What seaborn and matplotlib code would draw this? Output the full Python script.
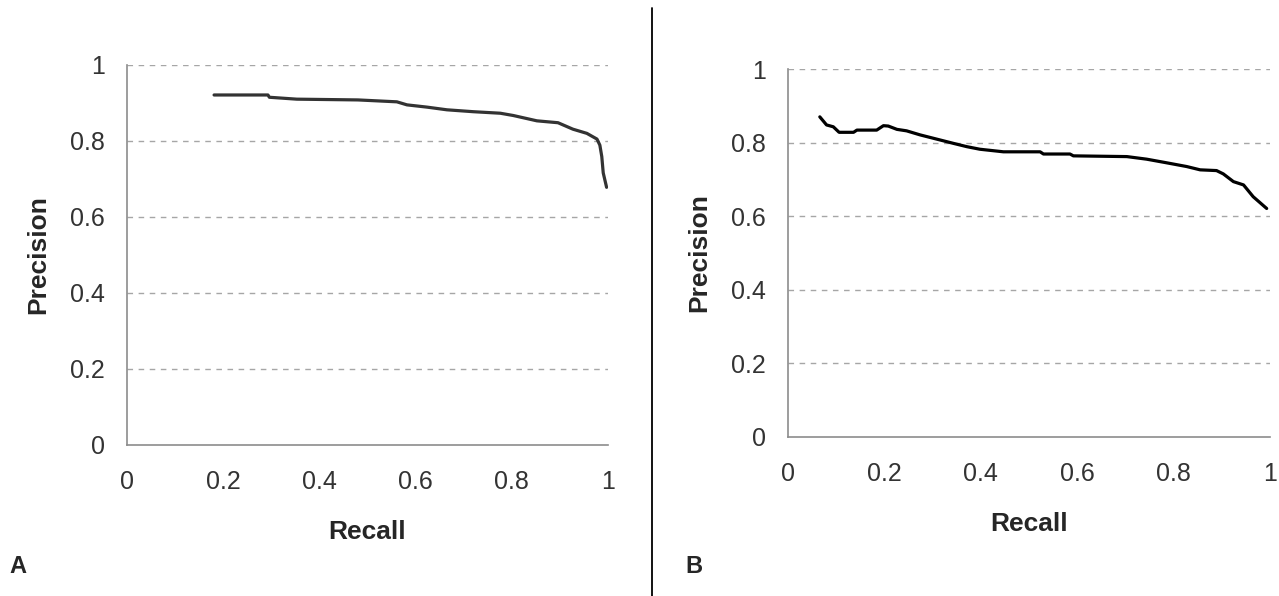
import numpy as np
import pandas as pd
import matplotlib
matplotlib.use("Agg")
import matplotlib.pyplot as plt
import seaborn as sns
from matplotlib.lines import Line2D

# === Data ===
recall_a = [0.181, 0.293, 0.296, 0.353, 0.480, 0.561, 0.582, 0.624, 0.665, 0.720,
            0.776, 0.803, 0.852, 0.896, 0.927, 0.956, 0.977, 0.983, 0.987, 0.990, 0.997]
precision_a = [0.921, 0.921, 0.915, 0.910, 0.908, 0.903, 0.895, 0.889, 0.882, 0.877,
               0.873, 0.867, 0.853, 0.848, 0.831, 0.820, 0.805, 0.789, 0.759, 0.716, 0.678]

recall_b = [0.066, 0.080, 0.094, 0.106, 0.136, 0.143, 0.184, 0.198, 0.208, 0.226,
            0.246, 0.274, 0.301, 0.343, 0.371, 0.398, 0.447, 0.523, 0.530, 0.585,
            0.592, 0.703, 0.744, 0.786, 0.827, 0.855, 0.889, 0.903, 0.924, 0.945,
            0.965, 0.993]
precision_b = [0.870, 0.848, 0.843, 0.828, 0.828, 0.834, 0.834, 0.846, 0.845, 0.836,
               0.832, 0.821, 0.812, 0.798, 0.789, 0.782, 0.775, 0.775, 0.769, 0.769,
               0.764, 0.762, 0.755, 0.745, 0.735, 0.726, 0.724, 0.715, 0.694, 0.685,
               0.653, 0.621]

ticks = [0, 0.2, 0.4, 0.6, 0.8, 1]
tick_labels = ["0", "0.2", "0.4", "0.6", "0.8", "1"]
panel_names = ["A", "B"]

sns.set_style("white")
plt.rcParams['font.family'] = ['Liberation Sans', 'DejaVu Sans']


def draw_panel(ax, recall, precision, color):
    df = pd.DataFrame({"Recall": recall, "Precision": precision})
    sns.lineplot(data=df, x="Recall", y="Precision", ax=ax, sort=False,
                 color=color, linewidth=2.3, zorder=3)
    ax.set_xlim(0, 1)
    ax.set_ylim(0, 1)
    ax.set_xticks(ticks)
    ax.set_xticklabels(tick_labels)
    ax.set_yticks(ticks)
    ax.set_yticklabels(tick_labels)
    for yv in ticks[1:]:
        ax.axhline(yv, color="#a6a6a6", linestyle=(0, (4, 4)), linewidth=1.0, zorder=1)
    for side in ["top", "right"]:
        ax.spines[side].set_visible(False)
    for side in ["left", "bottom"]:
        ax.spines[side].set_color("#8c8c8c")
        ax.spines[side].set_linewidth(1.2)
    ax.tick_params(axis="both", direction="out", length=6, width=1.2, color="#8c8c8c",
                   labelsize=18, labelcolor="#333333")
    ax.tick_params(axis="y", pad=10)
    ax.tick_params(axis="x", pad=12)
    ax.set_xlabel("Recall", fontsize=19, fontweight="bold", labelpad=19)
    ax.set_ylabel("Precision", fontsize=19, fontweight="bold", labelpad=14)


fig = plt.figure(figsize=(12.79, 5.96), dpi=100)
ax_a = fig.add_axes([0.0993, 0.2534, 0.3761, 0.6376])
ax_b = fig.add_axes([0.6161, 0.2668, 0.3769, 0.6174])

draw_panel(ax_a, recall_a, precision_a, "#333333")
draw_panel(ax_b, recall_b, precision_b, "#000000")

fig.text(0.007, 0.038, panel_names[0], fontsize=17, fontweight="bold")
fig.text(0.536, 0.038, panel_names[1], fontsize=17, fontweight="bold")

# vertical divider between the two panels
fig.add_artist(Line2D([0.5098, 0.5098], [0.0, 0.9866], color="black", linewidth=1.3))

fig.savefig("out.png", dpi=100, facecolor="white")
